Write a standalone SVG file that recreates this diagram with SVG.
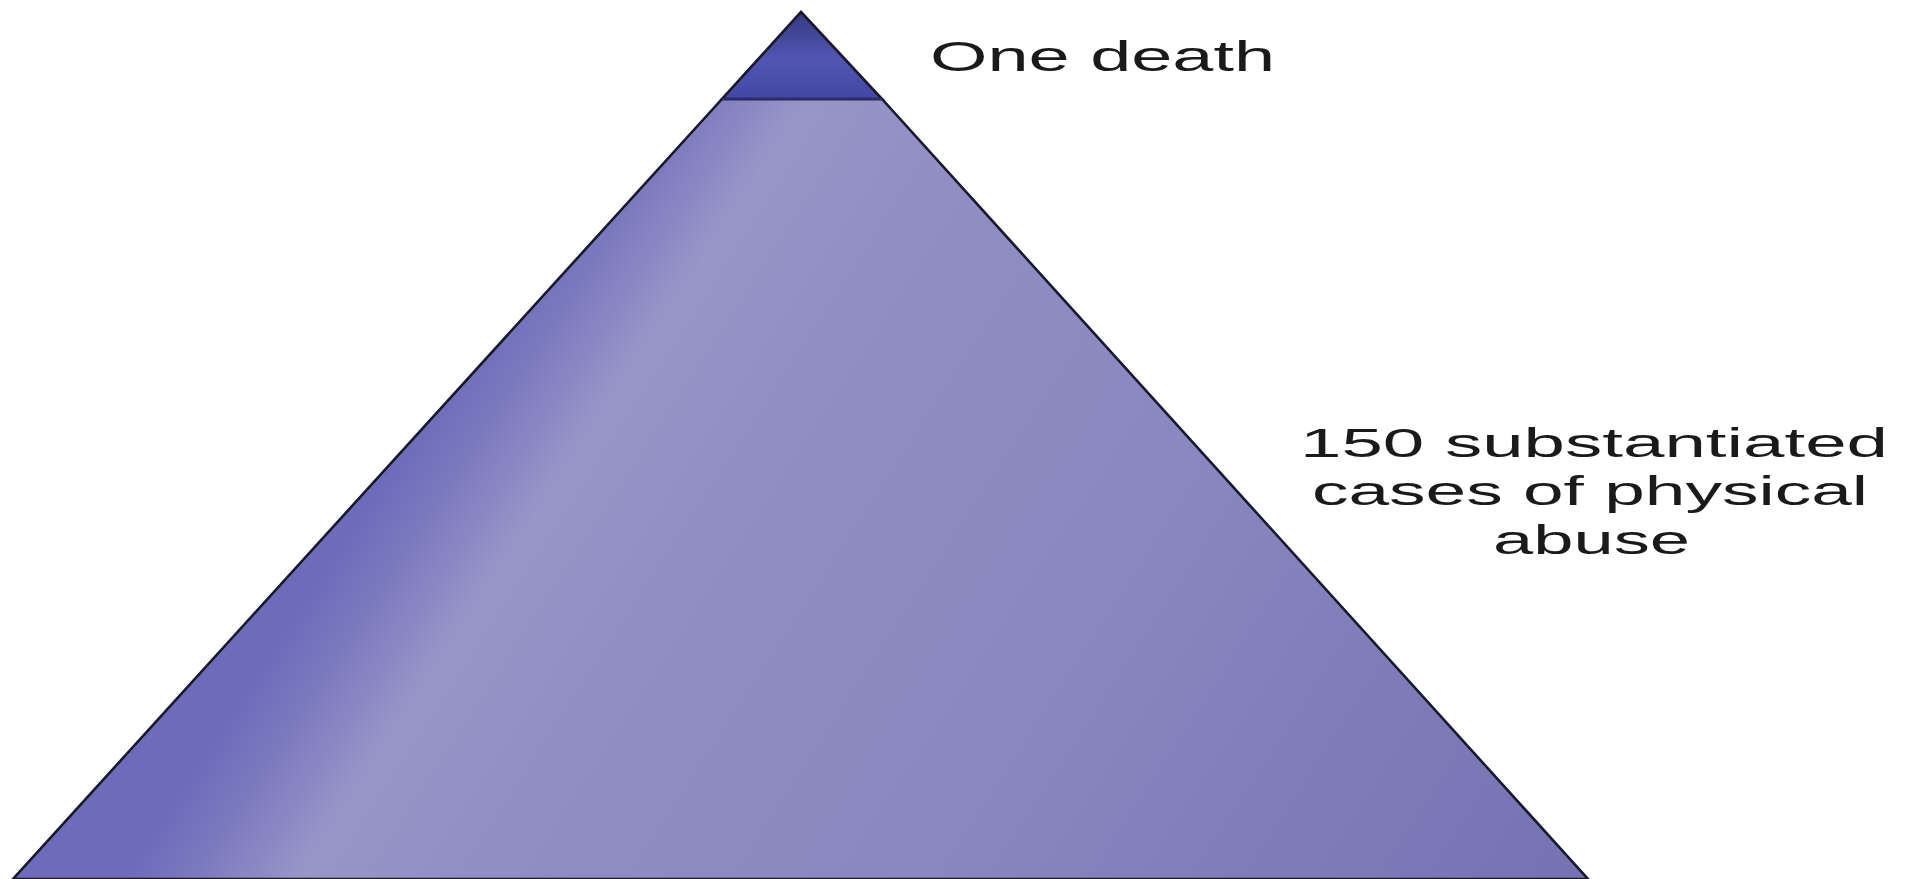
<svg xmlns="http://www.w3.org/2000/svg" width="1910" height="879" viewBox="0 0 1910 879">
  <defs>
    <linearGradient id="bigFill" gradientUnits="userSpaceOnUse" x1="403" y1="450" x2="1431" y2="1119">
      <stop offset="0" stop-color="#6e6cba"/>
      <stop offset="0.04" stop-color="#7977bd"/>
      <stop offset="0.12" stop-color="#9896c8"/>
      <stop offset="0.24" stop-color="#908ec3"/>
      <stop offset="0.55" stop-color="#8987bf"/>
      <stop offset="1" stop-color="#7472b2"/>
    </linearGradient>
    <linearGradient id="topFill" x1="0" y1="0" x2="0" y2="1">
      <stop offset="0" stop-color="#36397f"/>
      <stop offset="0.55" stop-color="#5256b3"/>
      <stop offset="1" stop-color="#4246a4"/>
    </linearGradient>
    <style>
      .edge { stroke: #181830; stroke-width: 2.6; stroke-linejoin: miter; }
      .lbl { font-family: "Liberation Sans", Arial, sans-serif; fill: #1a1a1a; }
    </style>
  </defs>
  <rect width="1910" height="879" fill="#ffffff"/>
  <g id="pyramid-base">
    <polygon class="edge" points="722,99 882,99 1588,879 13,879" fill="url(#bigFill)"/>
  </g>
  <g id="pyramid-top">
    <polygon class="edge" points="801,12 882,99 722,99" fill="url(#topFill)"/>
    <line x1="722" y1="99" x2="882" y2="99" stroke="#2a2d6a" stroke-width="2"/>
  </g>
  <g id="connectors"/>
  <g id="label-death">
    <text class="lbl" x="930" y="71" font-size="43" textLength="345" lengthAdjust="spacingAndGlyphs">One death</text>
  </g>
  <g id="label-abuse">
    <text class="lbl" x="1300" y="457" font-size="41" textLength="588" lengthAdjust="spacingAndGlyphs">150 substantiated</text>
    <text class="lbl" x="1312" y="505" font-size="41" textLength="556" lengthAdjust="spacingAndGlyphs">cases of physical</text>
    <text class="lbl" x="1493" y="554" font-size="41" textLength="197" lengthAdjust="spacingAndGlyphs">abuse</text>
  </g>
</svg>
